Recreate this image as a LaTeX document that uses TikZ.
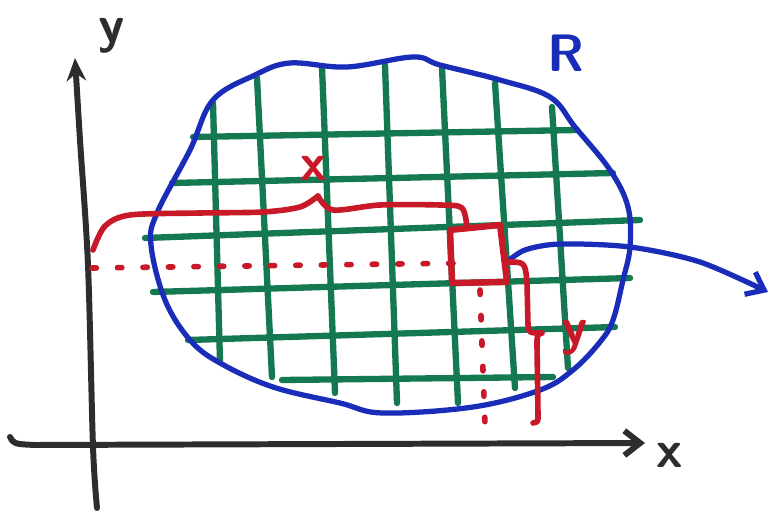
\documentclass[tikz,border=0pt]{standalone}
\usepackage{tikz}
\usetikzlibrary{arrows.meta}

\definecolor{penblack}{RGB}{45,45,48}
\definecolor{penblue}{RGB}{25,45,185}
\definecolor{pengreen}{RGB}{20,120,80}
\definecolor{penred}{RGB}{200,25,40}

\begin{document}
\begin{tikzpicture}[x=0.02cm,y=-0.02cm,line cap=round,line join=round,
    axisline/.style={penblack,line width=3.4pt},
    gridline/.style={pengreen,line width=3.6pt},
    rimline/.style={penblue,line width=3pt},
    redpen/.style={penred,line width=3.2pt},
    dotline/.style={redpen,dash pattern=on 2.5pt off 12pt},
    handtext/.style={font=\fontsize{30}{30}\selectfont\sffamily\bfseries}]
\useasboundingbox (0,0) rectangle (774,513);

      % Axes
      \coordinate (ybot) at (97,508);
      \coordinate (ytop) at (75,58);
      \coordinate (xleft) at (10,437);
      \coordinate (xright) at (645,443);
      \draw[axisline,-{Stealth[length=13pt,width=11pt]}] plot[smooth] coordinates {(ybot) (93,447) (88,265) (80,140) (ytop)};
      \draw[axisline,-{Straight Barb[length=9pt,width=14pt]}] (xleft) .. controls (14,444) .. (35,445) -- (xright);
      \node[handtext,penblack] (ylabel) at (112,36) {y};
      \node[handtext,penblack] (xlabel) at (670,455) {x};

      % Grid
      \foreach \xa/\ya/\xb/\yb in {213/103/220/362, 257/78/272/377, 322/67/335/393,
          385/65/397/403, 442/68/458/403, 495/83/515/388, 552/107/568/368}
        \draw[gridline] (\xa,\ya) -- (\xb,\yb);
      \foreach \xa/\ya/\xb/\yb in {193/137/577/130, 172/183/613/173, 145/238/640/220,
          153/292/630/278, 188/340/615/327, 282/380/553/377}
        \draw[gridline] (\xa,\ya) -- (\xb,\yb);

      % Region
      \draw[rimline] plot[smooth cycle,tension=0.6] coordinates {(255,75) (290,63) (347,67) (413,57)
        (440,65) (500,80) (550,97) (575,127) (610,170) (628,207) (630,247) (623,280)
        (613,320) (600,342) (573,370) (540,390) (473,407) (383,413) (340,403) (273,387)
        (220,363) (190,340) (165,300) (151,245) (157,213) (190,150) (213,100)};
      \node[handtext,penblue] (Rlabel) at (566,53) {R};
      \coordinate (cellout) at (507,262);
      \coordinate (arrowtip) at (768,292);
      \draw[rimline,-{Straight Barb[length=9pt,width=14pt]}] plot[smooth] coordinates {(cellout) (525,250) (560,244) (630,247) (700,262) (arrowtip)};

      % Cell and braces
      \coordinate (cellA) at (450,230);
      \coordinate (cellB) at (500,225);
      \coordinate (cellC) at (507,282);
      \coordinate (cellD) at (452,283);
      \draw[redpen,line width=3.6pt] (cellA) -- (cellB) -- (cellC) -- (cellD) -- cycle;
      \draw[dotline] (92,268) -- (472,263);
      \draw[dotline] (480,290) -- (485,425);
      \draw[redpen] plot[smooth] coordinates {(93,250) (105,226) (130,215) (200,213) (263,212) (300,207) (318,196)};
      \draw[redpen] plot[smooth] coordinates {(318,196) (333,210) (380,205) (440,205) (462,208) (467,228)};
      \draw[redpen] (cellout) .. controls (525,262) .. (527,282) -- (528,325)
        .. controls (529,333) .. (542,333) .. controls (537,335) .. (537,345)
        -- (538,415) .. controls (538,422) .. (533,423);
      \node[handtext,penred] (dxlabel) at (314,168) {x};
      \node[handtext,penred] (dylabel) at (575,338) {y};
\end{tikzpicture}
\end{document}
